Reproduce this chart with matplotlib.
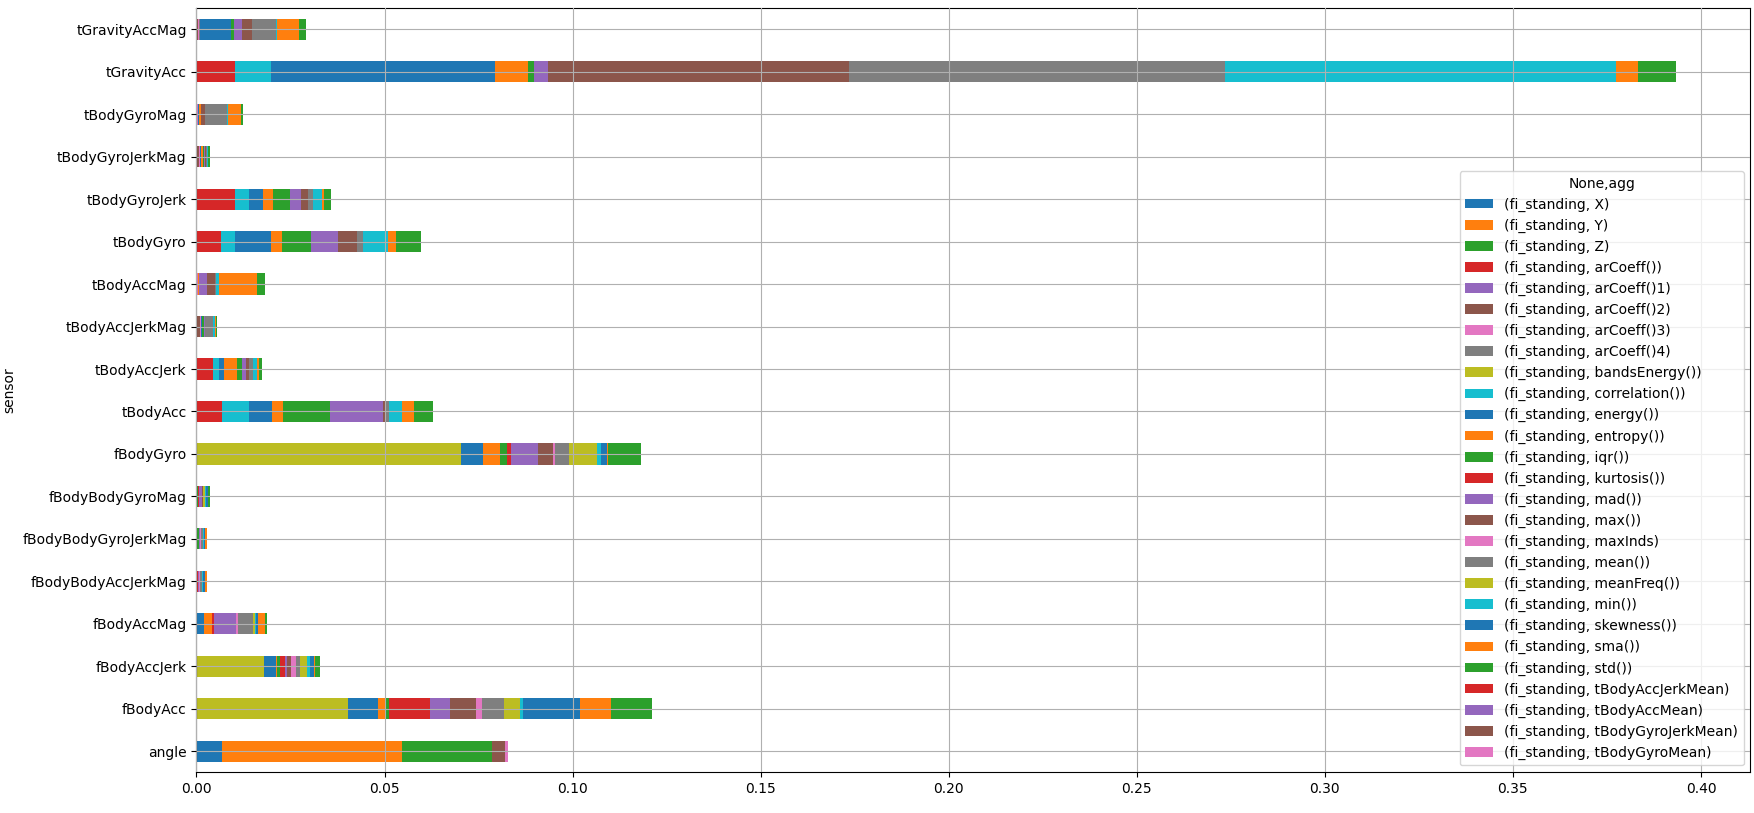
import numpy as np
import pandas as pd
import matplotlib
matplotlib.use("Agg")
import matplotlib.pyplot as plt

aggs = ["X", "Y", "Z", "arCoeff()", "arCoeff()1", "arCoeff()2", "arCoeff()3", "arCoeff()4",
        "bandsEnergy()", "correlation()", "energy()", "entropy()", "iqr()", "kurtosis()",
        "mad()", "max()", "maxInds", "mean()", "meanFreq()", "min()", "skewness()", "sma()",
        "std()", "tBodyAccJerkMean", "tBodyAccMean", "tBodyGyroJerkMean", "tBodyGyroMean"]

sensors = ["angle", "fBodyAcc", "fBodyAccJerk", "fBodyAccMag", "fBodyBodyAccJerkMag",
           "fBodyBodyGyroJerkMag", "fBodyBodyGyroMag", "fBodyGyro", "tBodyAcc", "tBodyAccJerk",
           "tBodyAccJerkMag", "tBodyAccMag", "tBodyGyro", "tBodyGyroJerk", "tBodyGyroJerkMag",
           "tBodyGyroMag", "tGravityAcc", "tGravityAccMag"]

# importance per sensor, indexed by position in aggs (sparse)
angle = {0: .0067, 1: .0479, 2: .0239, 23: .0001, 24: .0001, 25: .0033, 26: .0008}
fBodyAcc = {8: .0402, 10: .0082, 11: .0016, 12: .0011, 13: .0109, 14: .0053, 15: .0069,
            16: .0016, 17: .0061, 18: .004, 19: .0008, 20: .0154, 21: .008, 22: .0109}
fBodyAccJerk = {8: .0179, 10: .0032, 11: .0003, 12: .0008, 13: .0013, 14: .0005, 15: .0011,
                16: .0013, 17: .0011, 18: .0019, 19: .0008, 20: .0011, 21: .0003, 22: .0013}
fBodyAccMag = {10: .002, 11: .0021, 13: .0005, 14: .0059, 16: .0005, 17: .004, 18: .0005,
               19: .0003, 20: .0005, 21: .0019, 22: .0005}
fBodyBodyAccJerkMag = {13: .0003, 14: .0003, 16: .0004, 17: .0004, 19: .0003, 20: .0007, 21: .0003}
fBodyBodyGyroJerkMag = {12: .0007, 14: .0003, 16: .0003, 17: .0004, 19: .0004, 20: .0003, 21: .0003}
fBodyBodyGyroMag = {12: .0003, 13: .0005, 14: .0007, 15: .0002, 18: .0006, 19: .0003,
                    20: .0006, 22: .0003}
fBodyGyro = {8: .0703, 10: .0059, 11: .0045, 12: .0019, 13: .0011, 14: .0072, 15: .004,
             16: .0005, 17: .0037, 18: .0075, 19: .001, 20: .0015, 21: .0003, 22: .0087}
tBodyAcc = {3: .0067, 9: .0074, 10: .0059, 11: .0029, 12: .0125, 14: .0142, 15: .0007,
            17: .0008, 19: .0035, 21: .0032, 22: .0051}
tBodyAccJerk = {3: .0043, 9: .0016, 10: .0013, 11: .0035, 12: .0013, 14: .0011, 15: .0008,
                17: .0011, 19: .0011, 21: .0005, 22: .0008}
tBodyAccJerkMag = {5: .0009, 6: .0002, 10: .0003, 11: .0002, 12: .0004, 14: .0002, 15: .0002,
                   17: .0021, 19: .0004, 21: .0003, 22: .0003}
tBodyAccMag = {6: .0003, 10: .0002, 11: .0003, 14: .0021, 15: .0021, 17: .0003, 19: .0008,
               21: .0101, 22: .0021}
tBodyGyro = {3: .0065, 9: .0037, 10: .0096, 11: .0029, 12: .0077, 14: .0072, 15: .0051,
             17: .0016, 19: .0066, 21: .0021, 22: .0066}
tBodyGyroJerk = {3: .0102, 9: .0037, 10: .0037, 11: .0027, 12: .0045, 14: .0029, 15: .0019,
                 17: .0013, 19: .0024, 21: .0005, 22: .0021}
tBodyGyroJerkMag = {5: .0006, 6: .0003, 10: .0003, 11: .0005, 12: .0003, 14: .0003, 15: .0003,
                    17: .0002, 19: .0003, 22: .0004}
tBodyGyroMag = {6: .0005, 10: .0003, 11: .0003, 12: .0002, 15: .0009, 17: .0058, 19: .0005,
                21: .0033, 22: .0005}
tGravityAcc = {3: .0102, 9: .0096, 10: .0596, 11: .0088, 12: .0016, 14: .0037, 15: .080,
               17: .100, 19: .104, 21: .0058, 22: .0102}
tGravityAccMag = {3: .0002, 5: .0003, 6: .0002, 7: .0002, 10: .0082, 12: .001, 14: .0019,
                  15: .0029, 17: .0062, 19: .0002, 21: .0059, 22: .0019}

rows = [angle, fBodyAcc, fBodyAccJerk, fBodyAccMag, fBodyBodyAccJerkMag, fBodyBodyGyroJerkMag,
        fBodyBodyGyroMag, fBodyGyro, tBodyAcc, tBodyAccJerk, tBodyAccJerkMag, tBodyAccMag,
        tBodyGyro, tBodyGyroJerk, tBodyGyroJerkMag, tBodyGyroMag, tGravityAcc, tGravityAccMag]

values = np.zeros((len(sensors), len(aggs)))
for i, r in enumerate(rows):
    for j, v in r.items():
        values[i, j] = v

cols = pd.MultiIndex.from_tuples([("fi_standing", a) for a in aggs], names=[None, "agg"])
df = pd.DataFrame(values, index=pd.Index(sensors, name="sensor"), columns=cols)

fig, ax = plt.subplots(figsize=(17.54, 8.13), dpi=100)
df.plot.barh(stacked=True, ax=ax)
ax.grid(True)
ax.set_axisbelow(False)
ax.legend(title="None,agg", loc="lower right", fontsize=10)
fig.subplots_adjust(left=0.112, right=0.998, top=0.99, bottom=0.05)
fig.savefig("out.png")
